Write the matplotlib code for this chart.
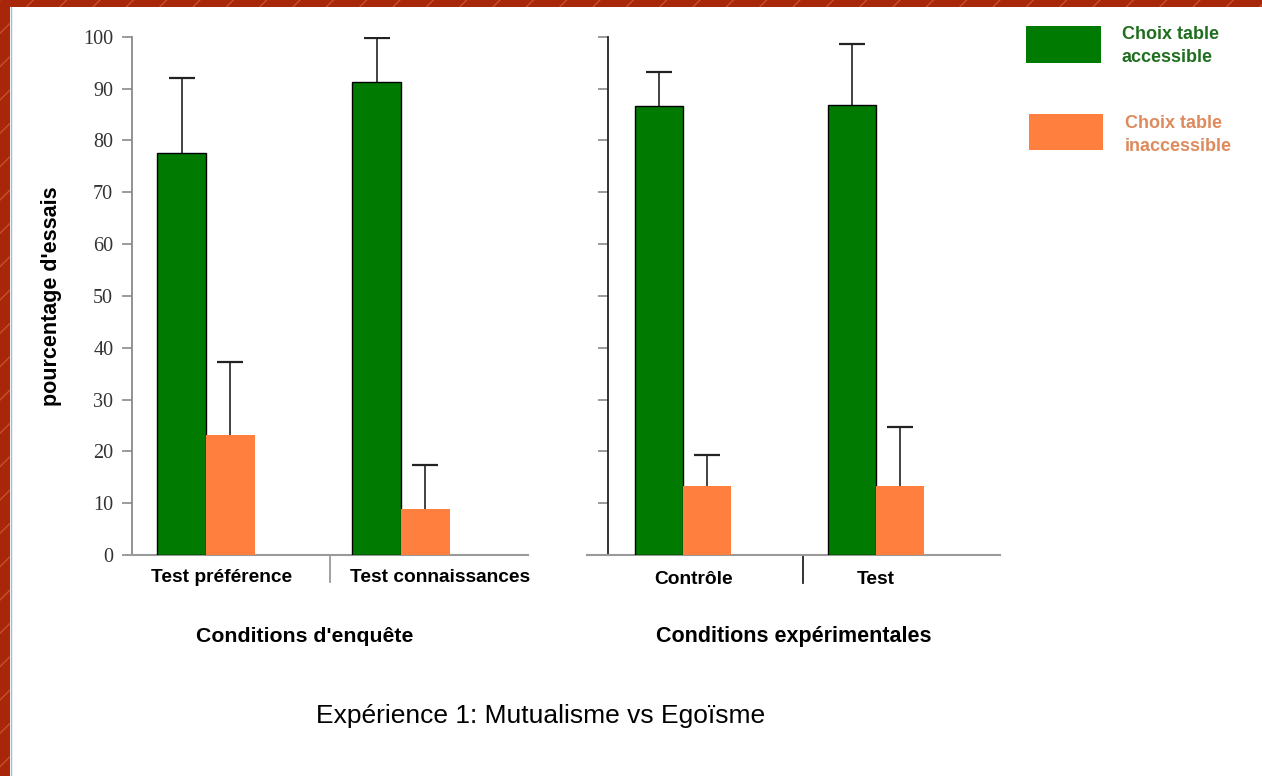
''' plot.py - Expérience 1: Mutualisme vs Egoïsme '''
import matplotlib
import matplotlib.pyplot as plt
from matplotlib.patches import Rectangle

matplotlib.use('Agg')

# données (pourcentage d'essais)
groups_left = ['Test préférence', 'Test connaissances']
groups_right = ['Contrôle', 'Test']
acc_left = [77.5, 91.2]
acc_left_err = [14.6, 8.6]
inacc_left = [23.2, 8.9]
inacc_left_err = [14.1, 8.5]
acc_right = [86.7, 86.8]
acc_right_err = [6.4, 11.7]
inacc_right = [13.3, 13.3]
inacc_right_err = [6.0, 11.4]
yticks = list(range(0, 101, 10))

GREEN = '#007a00'
ORANGE = '#ff7f3f'
W = 0.25
SANS = ['Liberation Sans', 'DejaVu Sans']


def up_errorbar(ax, x, y, err):
    ''' barre d'erreur vers le haut seulement '''
    _, caps, _ = ax.errorbar(x, y, yerr=[[0] * len(y), err], fmt='none',
                             ecolor='#222222', elinewidth=1.2, capsize=9.4,
                             capthick=1.6, zorder=2)
    caps[0].set_visible(False)


def draw_bars(ax, acc, acc_err, inacc, inacc_err):
    ''' deux barres par groupe '''
    xs = list(range(len(acc)))
    xg = [x - W / 2 for x in xs]
    xo = [x + W / 2 for x in xs]
    ax.bar(xg, acc, W, color=GREEN, edgecolor='black', linewidth=1, zorder=3)
    ax.bar(xo, inacc, W, color=ORANGE, edgecolor='none', zorder=3)
    up_errorbar(ax, xg, acc, acc_err)
    up_errorbar(ax, xo, inacc, inacc_err)


def style_axes(ax, xlim, spine_color):
    ax.set_xlim(*xlim)
    ax.set_ylim(0, 100)
    ax.set_yticks(yticks)
    for s in ['top', 'right']:
        ax.spines[s].set_visible(False)
    ax.spines['bottom'].set_color('#9a9a9a')
    ax.spines['bottom'].set_linewidth(1.5)
    ax.spines['left'].set_color(spine_color)
    ax.spines['left'].set_linewidth(1.3)
    ax.set_xticks([])
    ax.tick_params(axis='y', direction='out', length=7, width=1.2,
                   color='#8a8a8a', pad=6.5)
    ax.patch.set_alpha(0)


def main():
    fig = plt.figure(figsize=(12.62, 7.76), dpi=100, facecolor='white')

    # cadre rouge de la diapositive
    fig.patches.append(Rectangle((0, 1 - 7 / 776), 1, 7 / 776,
                                 transform=fig.transFigure,
                                 facecolor='#a8260a', edgecolor='#c8502a',
                                 hatch='/', linewidth=0))
    fig.patches.append(Rectangle((0, 0), 10 / 1262, 1,
                                 transform=fig.transFigure,
                                 facecolor='#a8260a', edgecolor='#c8502a',
                                 hatch='/', linewidth=0))
    fig.add_artist(plt.Line2D([10.5 / 1262] * 2, [0, 1 - 7 / 776],
                              transform=fig.transFigure,
                              color='#9fb8e0', linewidth=1))

    bottom = 221 / 776
    height = 518.3 / 776

    # panneau gauche
    ax1 = fig.add_axes([132 / 1262, bottom, 396 / 1262, height])
    draw_bars(ax1, acc_left, acc_left_err, inacc_left, inacc_left_err)
    style_axes(ax1, (-0.379, 1.651), '#8a8a8a')
    ax1.set_yticklabels([str(v) for v in yticks], family='Liberation Serif',
                        fontsize=14.5, color='#333333')
    ax1.set_ylabel("pourcentage d'essais", family=SANS, fontweight='bold',
                   fontsize=15.5)
    ax1.yaxis.set_label_coords(-0.178, 0.5)
    ax1.plot([0.636, 0.636], [-0.004, -0.052], color='#9a9a9a', lw=1.3,
             transform=ax1.get_xaxis_transform(), clip_on=False)
    for x, lab in zip([0.082, 1.2], groups_left):
        ax1.text(x, -0.043, lab, transform=ax1.get_xaxis_transform(),
                 ha='center', va='center', family=SANS, fontweight='bold',
                 fontsize=13.8)
    ax1.text(0.437, -0.158, "Conditions d'enquête", transform=ax1.transAxes,
             ha='center', va='center', family=SANS, fontweight='bold',
             fontsize=15.3)

    # panneau droit
    ax2 = fig.add_axes([587 / 1262, bottom, 413 / 1262, height])
    draw_bars(ax2, acc_right, acc_right_err, inacc_right, inacc_right_err)
    style_axes(ax2, (-0.497, 1.642), '#222222')
    ax2.spines['left'].set_position(('data', -0.389))
    ax2.spines['left'].set_bounds(0, 100)
    ax2.set_yticklabels([])
    ax2.plot([0.622, 0.622], [0, -0.054], color='#222222', lw=1.3,
             transform=ax2.get_xaxis_transform(), clip_on=False)
    for x, lab in zip([0.057, 1.0], groups_right):
        ax2.text(x, -0.047, lab, transform=ax2.get_xaxis_transform(),
                 ha='center', va='center', family=SANS, fontweight='bold',
                 fontsize=13.8)
    ax2.text(0.50, -0.158, 'Conditions expérimentales',
             transform=ax2.transAxes, ha='center', va='center', family=SANS,
             fontweight='bold', fontsize=15.5)

    # légende
    fig.patches.append(Rectangle((1026 / 1262, 1 - 63 / 776), 75 / 1262,
                                 37 / 776, transform=fig.transFigure,
                                 facecolor=GREEN, edgecolor='none'))
    fig.patches.append(Rectangle((1029 / 1262, 1 - 150 / 776), 74 / 1262,
                                 36 / 776, transform=fig.transFigure,
                                 facecolor=ORANGE, edgecolor='none'))
    fig.text(1122 / 1262, 1 - 46 / 776, 'Choix table\naccessible',
             ha='left', va='center', family=SANS,
             fontweight='bold', fontsize=13, color='#1f6e1f',
             linespacing=1.5)
    fig.text(1125 / 1262, 1 - 135 / 776, 'Choix table\ninaccessible',
             ha='left', va='center', family=SANS,
             fontweight='bold', fontsize=13, color='#de8a5c',
             linespacing=1.5)

    fig.text(541 / 1262, 1 - 716 / 776, 'Expérience 1: Mutualisme vs Egoïsme',
             ha='center', va='center', family=SANS, fontsize=19)

    fig.savefig('out.png', dpi=100, facecolor='white')


if __name__ == '__main__':
    main()
